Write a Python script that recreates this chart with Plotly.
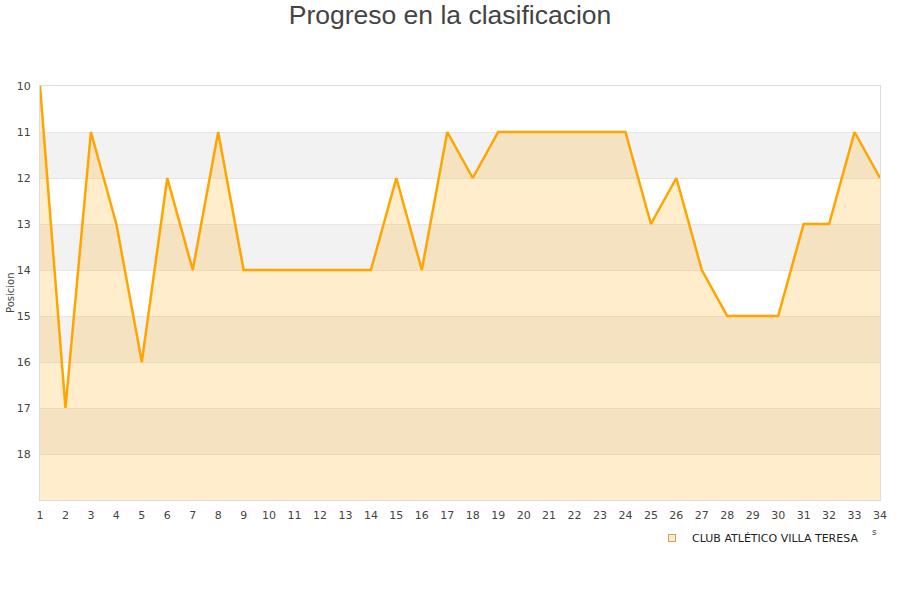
import plotly.graph_objects as go

jornadas = list(range(1, 35))
posiciones = [10, 17, 11, 13, 16, 12, 14, 11, 14, 14, 14, 14, 14, 14, 12, 14, 11, 12, 11, 11,
              11, 11, 11, 11, 13, 12, 14, 15, 15, 15, 13, 13, 11, 12]
equipo = "CLUB ATLÉTICO VILLA TERESA"
y_ticks = [10, 11, 12, 13, 14, 15, 16, 17, 18]
y_bottom = 19

fig = go.Figure()

shapes = []
for a in [11, 13, 15, 17]:
    shapes.append(dict(type="rect", xref="paper", yref="y", x0=0, x1=1, y0=a, y1=a + 1,
                       fillcolor="#f2f2f2", line_width=0, layer="below"))

fig.add_trace(go.Scatter(x=jornadas, y=[y_bottom] * len(jornadas), mode="lines",
                         line=dict(width=0), showlegend=False, hoverinfo="skip"))
fig.add_trace(go.Scatter(x=jornadas, y=posiciones, mode="lines", fill="tonexty",
                         fillcolor="rgba(255,165,0,0.2)",
                         line=dict(color="#FFA500", width=2.5), showlegend=False, name=equipo))
fig.add_trace(go.Scatter(x=[None], y=[None], mode="markers", name=equipo,
                         marker=dict(symbol="square", size=7, color="#fdecc8",
                                     line=dict(color="#c8a060", width=1))))

fig.update_layout(
    width=900, height=600,
    paper_bgcolor="white", plot_bgcolor="white",
    margin=dict(l=40, r=20, t=86, b=100, autoexpand=False),
    title=dict(text="Progreso en la clasificacion", x=0.5, xanchor="center", y=0.975, yanchor="middle",
               font=dict(family="Liberation Sans, Arial", size=26.5, color="#444444"), automargin=False),
    font=dict(family="DejaVu Sans", size=11, color="#444444"),
    shapes=shapes,
    showlegend=True,
    legend=dict(x=0.7286, y=-0.0568, xanchor="left", yanchor="top", orientation="h",
                font=dict(family="DejaVu Sans", size=11, color="#222222"),
                itemwidth=30, bgcolor="rgba(0,0,0,0)"),
    xaxis=dict(range=[1, 34], tickmode="array", tickvals=jornadas, showgrid=False,
               zeroline=False, showline=True, linecolor="#dddddd", linewidth=1, mirror=True,
               ticks="", tickfont=dict(size=11, color="#444444"), automargin=False,
               ticklabelstandoff=5),
    yaxis=dict(range=[y_bottom, 10], tickmode="array", tickvals=y_ticks, showgrid=True,
               gridcolor="#e6e6e6", zeroline=False, showline=True, linecolor="#dddddd",
               linewidth=1, mirror=True, ticks="", tickfont=dict(size=11, color="#444444"),
               automargin=False, ticklabelstandoff=6),
)
fig.add_annotation(text="Posicion", xref="paper", yref="paper", x=-0.0357, y=0.5,
                   xanchor="center", yanchor="middle", textangle=-90, showarrow=False,
                   font=dict(size=10, color="#444444"))
fig.add_annotation(text="s", xref="paper", yref="paper", x=0.994, y=-0.094, xanchor="center",
                   showarrow=False, font=dict(size=9, color="#444444"))

fig.write_html("out.html", config={"displayModeBar": False},
               post_script="document.body.style.margin='0px';")
